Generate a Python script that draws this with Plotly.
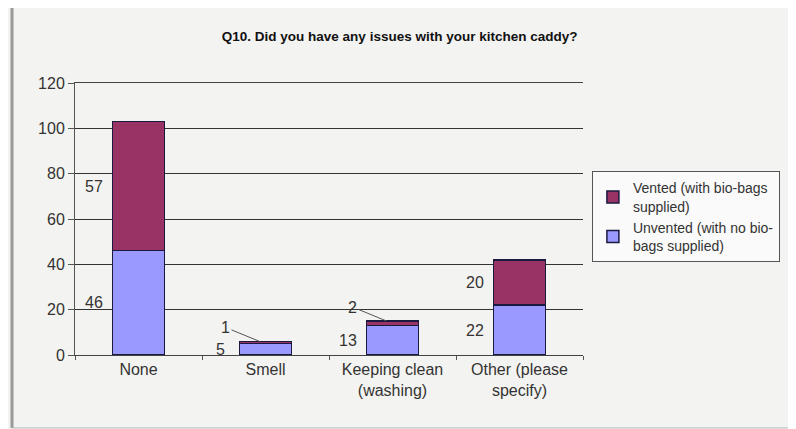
import plotly.graph_objects as go

categories = ["None", "Smell", "Keeping clean<br>(washing)", "Other (please<br>specify)"]
unvented = [46, 5, 13, 22]
vented = [57, 1, 2, 20]
y_ticks = [0, 20, 40, 60, 80, 100, 120]

fig = go.Figure()
fig.add_trace(go.Bar(x=categories, y=unvented, name="Unvented (with no bio-<br>bags supplied)",
                     marker=dict(color="#9999ff", line=dict(color="#1a1a40", width=1.5)), width=0.41))
fig.add_trace(go.Bar(x=categories, y=vented, name="Vented (with bio-bags<br>supplied)",
                     marker=dict(color="#993366", line=dict(color="#1a1a40", width=1.5)), width=0.41))

font = dict(family="Liberation Sans, Arial", size=16, color="#333333")
ann = []
for i, c in enumerate(categories):
    u, v = unvented[i], vented[i]
    if v >= 10:
        ann.append(dict(x=c, y=u + v / 2, text=str(v), showarrow=False, xshift=-45, font=font))
        ann.append(dict(x=c, y=u / 2, text=str(u), showarrow=False, xshift=-45, font=font))
    else:
        ann.append(dict(x=c, y=u / 2, text=str(u), showarrow=False, xshift=-45, font=font))
        ann.append(dict(x=c, y=u + v, text=str(v), showarrow=True, arrowhead=0, arrowwidth=1,
                        arrowcolor="#555555", ax=-34, ay=-14, xshift=-6, font=font))

fig.update_layout(
    barmode="stack",
    width=788, height=421,
    margin=dict(l=67, r=213, t=75, b=74, autoexpand=False),
    paper_bgcolor="#f3f3f1",
    plot_bgcolor="#f3f3f1",
    title=dict(text="<b>Q10. Did you have any issues with your kitchen caddy?</b>",
               x=0.497, xanchor="center", y=0.933, yanchor="middle",
               font=dict(family="Liberation Sans, Arial", size=13.5, color="#111111")),
    xaxis=dict(showline=True, linecolor="#444444", mirror=True, ticks="outside", ticklen=4,
               tickcolor="#555555", tickson="boundaries", tickfont=font, showgrid=False),
    yaxis=dict(range=[0, 120], tickvals=y_ticks, showgrid=True, gridcolor="#333333", gridwidth=1,
               showline=True, linecolor="#555555", ticks="outside", ticklen=6, tickcolor="#555555",
               tickfont=font, zeroline=False),
    legend=dict(xref="container", yref="container", x=0.741, y=0.612, xanchor="left", yanchor="top",
                traceorder="reversed",
                bgcolor="#fafafa", bordercolor="#555555", borderwidth=1,
                font=dict(family="Liberation Sans, Arial", size=14, color="#333333"),
                itemwidth=30, tracegroupgap=6),
    annotations=ann,
    shapes=[dict(type="line", xref="paper", yref="paper", x0=-0.124, x1=-0.124, y0=-0.268, y1=1.276,
                 line=dict(color="#999999", width=3)),
            dict(type="line", xref="paper", yref="paper", x0=-0.124, x1=1.5, y0=-0.268, y1=-0.268,
                 line=dict(color="#bbbbbb", width=1))],
)
fig.write_html("out.html")
